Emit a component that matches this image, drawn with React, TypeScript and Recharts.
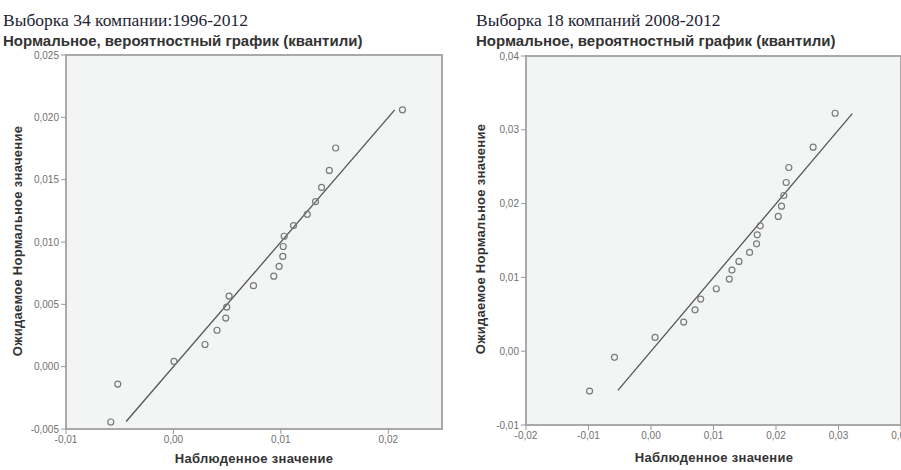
import React from 'react';
import { ScatterChart, Scatter, XAxis, YAxis, ReferenceArea, ReferenceLine } from 'recharts';

// Left chart: sample of 34 companies 1996-2012
const leftObserved = [-0.00583, -0.00518, 0.00005, 0.00294, 0.00406, 0.00487, 0.00496, 0.00518, 0.00745, 0.00934, 0.00984, 0.01018, 0.01022, 0.01031, 0.01118, 0.01246, 0.01323, 0.01379, 0.01451, 0.0151, 0.02132];
const leftExpected = [-0.00444, -0.0014, 0.00042, 0.00178, 0.00292, 0.0039, 0.00478, 0.00566, 0.0065, 0.00726, 0.00804, 0.00884, 0.00964, 0.01046, 0.01132, 0.01222, 0.01324, 0.01438, 0.01574, 0.01754, 0.0206];
const leftLine = [-0.0044, 0.0206];
const leftXDomain = [-0.01, 0.025];
const leftYDomain = [-0.005, 0.025];
const leftXTicks = [-0.01, 0, 0.01, 0.02];
const leftYTicks = [-0.005, 0, 0.005, 0.01, 0.015, 0.02, 0.025];

// Right chart: sample of 18 companies 2008-2012
const rightObserved = [-0.00983, -0.00584, 0.00065, 0.00523, 0.00704, 0.00795, 0.01045, 0.01253, 0.01295, 0.01407, 0.01577, 0.01689, 0.017, 0.01748, 0.02036, 0.02088, 0.02125, 0.02163, 0.02205, 0.02594, 0.02946];
const rightExpected = [-0.0054, -0.00083, 0.00187, 0.00395, 0.00561, 0.00706, 0.00846, 0.00977, 0.01099, 0.01216, 0.01338, 0.01455, 0.01577, 0.01699, 0.01826, 0.01965, 0.0211, 0.02286, 0.02489, 0.02764, 0.03224];
const rightLine = [-0.0053, 0.0322];
const rightXDomain = [-0.02, 0.04];
const rightYDomain = [-0.01, 0.04];
const rightXTicks = [-0.02, -0.01, 0, 0.01, 0.02, 0.03, 0.04];
const rightYTicks = [-0.01, 0, 0.01, 0.02, 0.03, 0.04];

const titles = ['Выборка 34 компании:1996-2012', 'Выборка 18 компаний 2008-2012'];
const subtitle = 'Нормальное, вероятностный график (квантили)';
const xLabel = 'Наблюденное значение';
const yLabel = 'Ожидаемое Нормальное значение';

const fmt = (d: number) => (v: number) => v.toFixed(d).replace('.', ',');

const Circle = (props: any) => (
  <circle cx={props.cx} cy={props.cy} r={3} fill="none" stroke="#7a7a7a" strokeWidth={1.2} />
);

const tickStyle = { fontSize: 10, fill: '#707070', fontFamily: 'Liberation Sans, Arial, sans-serif' };

function QQ(props: {
  left: number; top: number; width: number; height: number;
  mTop: number; mRight: number; xH: number;
  xs: number[]; ys: number[]; line: number[];
  xDomain: number[]; yDomain: number[];
  xTicks: number[]; yTicks: number[]; xDec: number; yDec: number;
}) {
  const data = props.xs.map((x, i) => ({ x, y: props.ys[i] }));
  const xd = props.xDomain;
  const yd = props.yDomain;
  return (
    <div style={{ position: 'absolute', left: props.left, top: props.top }}>
      <ScatterChart width={props.width} height={props.height} margin={{ top: props.mTop, right: props.mRight, bottom: 0, left: 0 }}>
        <XAxis type="number" dataKey="x" domain={xd} ticks={props.xTicks} tickFormatter={fmt(props.xDec)}
          height={props.xH} axisLine={false} tickLine={{ stroke: '#999' }} tickSize={5} tick={tickStyle} interval={0} allowDataOverflow />
        <YAxis type="number" dataKey="y" domain={yd} ticks={props.yTicks} tickFormatter={fmt(props.yDec)}
          width={66} axisLine={false} tickLine={{ stroke: '#999' }} tickSize={5} tick={tickStyle} interval={0} allowDataOverflow />
        <ReferenceArea x1={xd[0]} x2={xd[1]} y1={yd[0]} y2={yd[1]} fill="#f3f5f5" fillOpacity={1} stroke="#a9a9a9" strokeWidth={2} />
        <ReferenceLine segment={[{ x: props.line[0], y: props.line[0] }, { x: props.line[1], y: props.line[1] }]} stroke="#555" strokeWidth={1.3} />
        <Scatter data={data} shape={Circle} isAnimationActive={false} />
      </ScatterChart>
    </div>
  );
}

const titleSerif: React.CSSProperties = { position: 'absolute', fontFamily: 'Liberation Serif, Times New Roman, serif', fontSize: 17.5, color: '#1e1e33', whiteSpace: 'nowrap', lineHeight: '18px' };
const titleSans: React.CSSProperties = { position: 'absolute', fontFamily: 'Liberation Sans, Arial, sans-serif', fontSize: 15, fontWeight: 'bold', color: '#333', whiteSpace: 'nowrap', lineHeight: '16px' };
const axisLab: React.CSSProperties = { position: 'absolute', fontFamily: 'Liberation Sans, Arial, sans-serif', fontSize: 13, fontWeight: 'bold', color: '#333', whiteSpace: 'nowrap', lineHeight: '14px', letterSpacing: 0.3 };

export default function App() {
  return (
    <div style={{ position: 'absolute', left: 0, top: 0, width: 901, height: 470, overflow: 'hidden', background: '#fff' }}>
      <QQ left={0} top={0} width={450} height={470} mTop={55} mRight={8} xH={41}
        xs={leftObserved} ys={leftExpected} line={leftLine} xDomain={leftXDomain} yDomain={leftYDomain}
        xTicks={leftXTicks} yTicks={leftYTicks} xDec={2} yDec={3} />
      <QQ left={460} top={0} width={460} height={470} mTop={56} mRight={19} xH={45}
        xs={rightObserved} ys={rightExpected} line={rightLine} xDomain={rightXDomain} yDomain={rightYDomain}
        xTicks={rightXTicks} yTicks={rightYTicks} xDec={2} yDec={2} />
      <div style={{ ...titleSerif, left: 3, top: 11 }}>{titles[0]}</div>
      <div style={{ ...titleSerif, left: 476, top: 11 }}>{titles[1]}</div>
      <div style={{ ...titleSans, left: 3, top: 33 }}>{subtitle}</div>
      <div style={{ ...titleSans, left: 476, top: 33 }}>{subtitle}</div>
      <div style={{ ...axisLab, left: 254, top: 459, transform: 'translate(-50%, -50%)' }}>{xLabel}</div>
      <div style={{ ...axisLab, left: 714, top: 458, transform: 'translate(-50%, -50%)' }}>{xLabel}</div>
      <div style={{ ...axisLab, left: 18, top: 241, transform: 'translate(-50%, -50%) rotate(-90deg)' }}>{yLabel}</div>
      <div style={{ ...axisLab, left: 481, top: 239, transform: 'translate(-50%, -50%) rotate(-90deg)' }}>{yLabel}</div>
    </div>
  );
}
